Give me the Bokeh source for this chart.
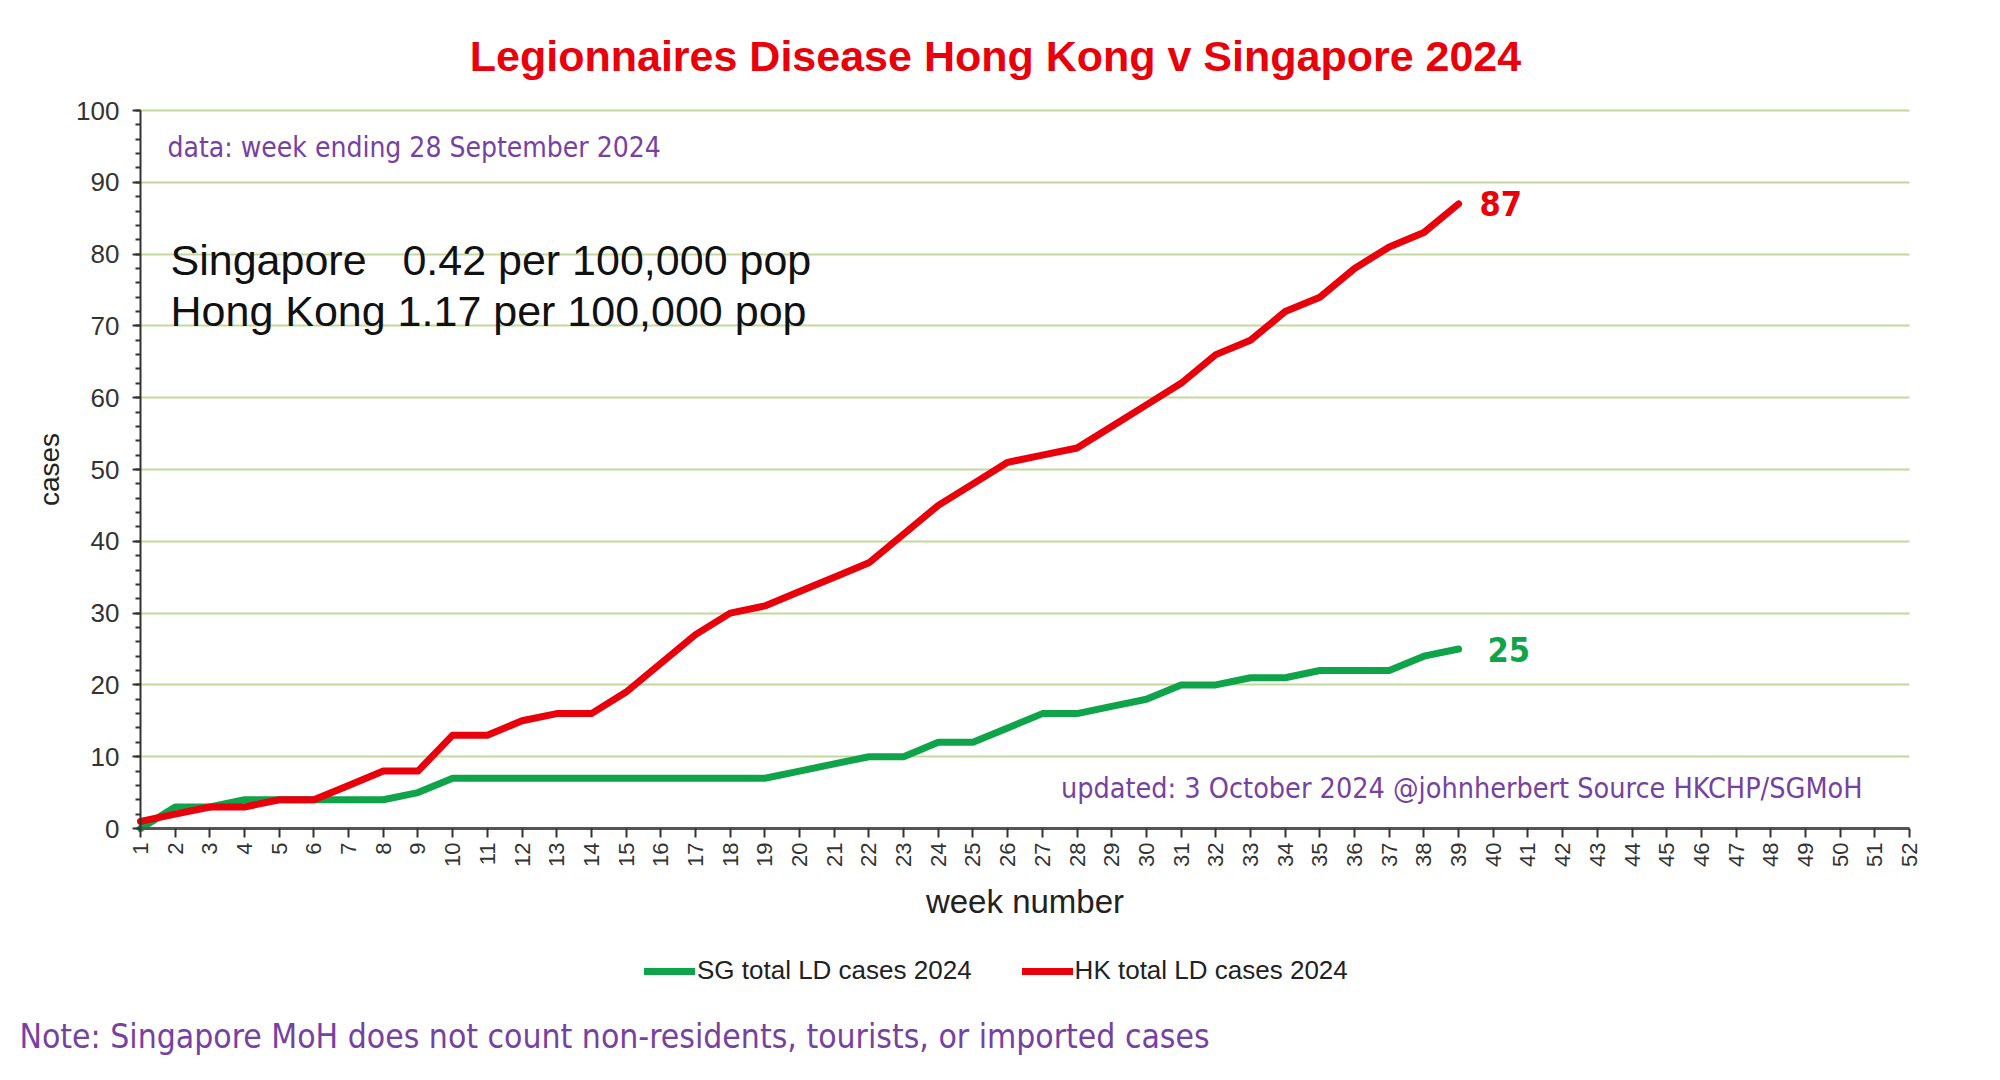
import math
from bokeh.plotting import figure
from bokeh.models import Range1d, FixedTicker, Label, Legend, LegendItem
from bokeh.embed import file_html
from bokeh.resources import INLINE

# ---------------- data ----------------
weeks = list(range(1, 40))
sg_cases = [0, 3, 3, 4, 4, 4, 4, 4, 5, 7,
            7, 7, 7, 7, 7, 7, 7, 7, 7, 8,
            9, 10, 10, 12, 12, 14, 16, 16, 17, 18,
            20, 20, 21, 21, 22, 22, 22, 24, 25]
hk_cases = [1, 2, 3, 3, 4, 4, 6, 8, 8, 13,
            13, 15, 16, 16, 19, 23, 27, 30, 31, 33,
            35, 37, 41, 45, 48, 51, 52, 53, 56, 59,
            62, 66, 68, 72, 74, 78, 81, 83, 87]
x_ticks = list(range(1, 53))
y_ticks = list(range(0, 101, 10))
y_minor_ticks = list(range(0, 101, 2))

series_labels = ["SG total LD cases 2024", "HK total LD cases 2024"]
title_text = "Legionnaires Disease Hong Kong v Singapore 2024"
data_note = "data: week ending 28 September 2024"
rate_sg = "Singapore\u00a0\u00a0\u00a00.42 per 100,000 pop"
rate_hk = "Hong Kong 1.17 per 100,000 pop"
updated_note = "updated: 3 October 2024 @johnherbert Source HKCHP/SGMoH"
footer_note = "Note: Singapore MoH does not count non-residents, tourists, or imported cases"

RED = "#E8000B"
GREEN = "#0FA34A"
PURPLE = "#7642A2"
GRID = "#C4D89E"
SANS = "Liberation Sans"
NARROW = "DejaVu Sans Condensed, Liberation Sans Narrow, Roboto, sans-serif"

# ---------------- layout (pixels) ----------------
W, H = 1984, 1064
AX_L, AX_R = 140, 1909      # x pixel of week 1 / week 52
AX_T, AX_B = 110, 828       # y pixel of 100 / 0 cases
px_week = (AX_R - AX_L) / (x_ticks[-1] - x_ticks[0])
px_case = (AX_B - AX_T) / (y_ticks[-1] - y_ticks[0])
x_rng = Range1d(x_ticks[0] - AX_L / px_week, x_ticks[-1] + (W - AX_R) / px_week)
y_rng = Range1d(y_ticks[0] - (H - AX_B) / px_case, y_ticks[-1] + AX_T / px_case)

p = figure(width=W, height=H, output_backend="svg", toolbar_location=None,
           x_range=x_rng, y_range=y_rng,
           min_border_left=0, min_border_right=0,
           min_border_top=0, min_border_bottom=0)
p.outline_line_color = None
p.background_fill_color = "white"
p.border_fill_color = "white"
p.xgrid.visible = False

ygrid = p.ygrid[0]
ygrid.grid_line_color = GRID
ygrid.grid_line_width = 2
ygrid.bounds = (y_ticks[0], y_ticks[-1])
ygrid.cross_bounds = (x_ticks[0], x_ticks[-1])

# y axis (fixed at week 1)
yax = p.yaxis[0]
yax.fixed_location = x_ticks[0]
yax.bounds = (y_ticks[0], y_ticks[-1])
yax.ticker = FixedTicker(ticks=y_ticks, minor_ticks=y_minor_ticks)
yax.axis_line_width = 2
yax.axis_line_color = "#333333"
yax.major_tick_in = 0
yax.major_tick_out = 8
yax.minor_tick_in = 0
yax.minor_tick_out = 5
yax.major_tick_line_width = 2
yax.minor_tick_line_width = 2
yax.major_tick_line_color = "#333333"
yax.minor_tick_line_color = "#333333"
yax.major_label_text_font = SANS
yax.major_label_text_font_size = "26px"
yax.major_label_text_color = "#333333"
yax.major_label_standoff = 13
yax.axis_label = "cases"
yax.axis_label_text_font = SANS
yax.axis_label_text_font_size = "28px"
yax.axis_label_text_font_style = "normal"
yax.axis_label_text_color = "#222222"
yax.axis_label_standoff = 8

# x axis (fixed at 0 cases)
xax = p.xaxis[0]
xax.fixed_location = y_ticks[0]
xax.bounds = (x_ticks[0], x_ticks[-1])
xax.ticker = FixedTicker(ticks=x_ticks, minor_ticks=[])
xax.axis_line_width = 3
xax.axis_line_color = "#555555"
xax.major_tick_in = 0
xax.major_tick_out = 9
xax.major_tick_line_width = 2
xax.major_tick_line_color = "#333333"
xax.minor_tick_out = 0
xax.major_label_orientation = math.pi / 2
xax.major_label_text_font = SANS
xax.major_label_text_font_size = "22px"
xax.major_label_text_color = "#333333"
xax.major_label_standoff = 5
xax.axis_label = "week number"
xax.axis_label_text_font = SANS
xax.axis_label_text_font_size = "33px"
xax.axis_label_text_font_style = "normal"
xax.axis_label_text_color = "#222222"
xax.axis_label_standoff = 13

# series
sg = p.line(weeks, sg_cases, line_color=GREEN, line_width=7,
            line_join="round", line_cap="round")
hk = p.line(weeks, hk_cases, line_color=RED, line_width=7,
            line_join="round", line_cap="round")

legend = Legend(items=[LegendItem(label=series_labels[0], renderers=[sg]),
                       LegendItem(label=series_labels[1], renderers=[hk])],
                orientation="horizontal", location=(644, H - 986),
                border_line_alpha=0, background_fill_alpha=0,
                padding=0, margin=0, spacing=50,
                glyph_width=51, glyph_height=30, label_height=30,
                label_standoff=2, label_text_font=SANS,
                label_text_font_size="26px", label_text_color="#222222")
p.add_layout(legend)

# end-value labels
p.add_layout(Label(x=weeks[-1], y=hk_cases[-1], x_offset=21, text=str(hk_cases[-1]),
                   text_font=NARROW, text_font_style="bold", text_font_size="34px",
                   text_color=RED, text_baseline="middle"))
p.add_layout(Label(x=weeks[-1], y=sg_cases[-1], x_offset=29, text=str(sg_cases[-1]),
                   text_font=NARROW, text_font_style="bold", text_font_size="34px",
                   text_color=GREEN, text_baseline="middle"))

def screen_label(X, Y, text, font, size, color, align="left", style="normal"):
    # X, Y: pixel position measured from the top-left of the canvas
    p.add_layout(Label(x=X, y=H - Y, x_units="screen", y_units="screen", text=text,
                       text_font=font, text_font_size=size, text_color=color,
                       text_align=align, text_baseline="middle", text_font_style=style))

screen_label(995, 55, title_text, SANS, "43px", RED, align="center", style="bold")
screen_label(167, 147, data_note, NARROW, "28px", PURPLE)
screen_label(170, 259, rate_sg, SANS, "43px", "#111111")
screen_label(170, 310, rate_hk, SANS, "43px", "#111111")
screen_label(1862, 788, updated_note, NARROW, "28.5px", PURPLE, align="right")
screen_label(19, 1036, footer_note, NARROW, "33.4px", PURPLE)

open("out.html", "w").write(file_html(p, INLINE))
